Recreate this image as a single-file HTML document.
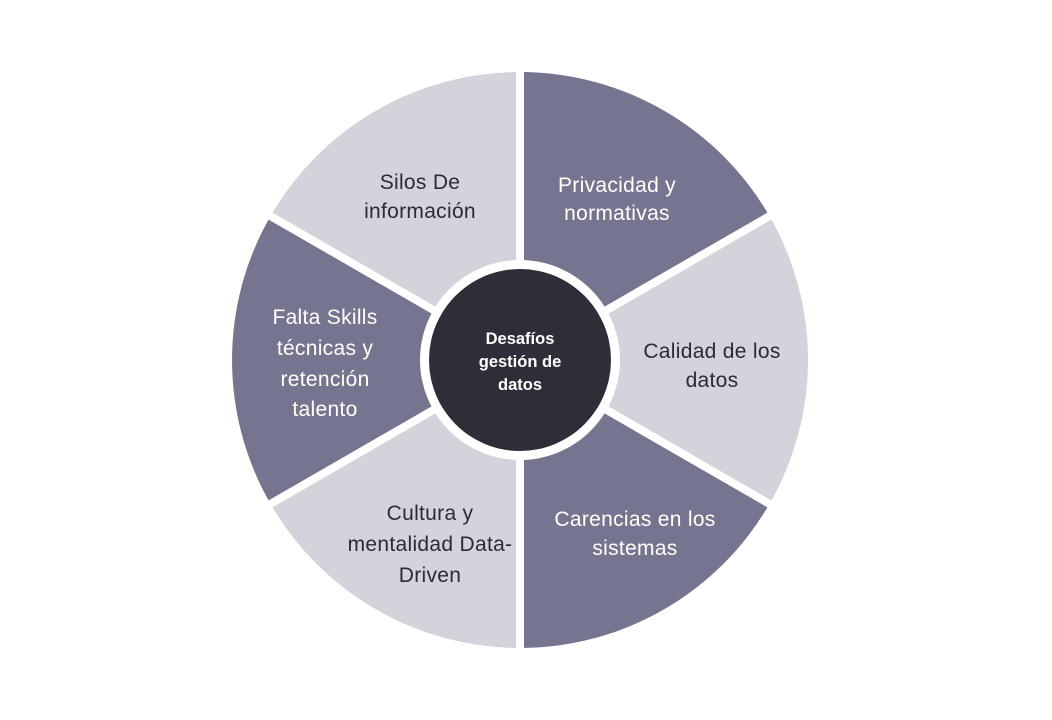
<!DOCTYPE html>
<html><head><meta charset="utf-8"><style>
html,body{margin:0;padding:0;background:#fff;width:1052px;height:720px;overflow:hidden}
svg{display:block}
text{font-family:"Liberation Sans",sans-serif;font-size:21px;text-anchor:middle;letter-spacing:0.3px}
.d{fill:#2b2b35}.w{fill:#fff}
.c{font-size:16.5px;font-weight:bold;fill:#fff;letter-spacing:0}
</style></head><body>
<svg width="1052" height="720" viewBox="0 0 1052 720">
<g>
<path d="M520,360 L520,72 A288,288 0 0 0 270.6,216 Z" fill="#d3d3db"/>
<path d="M520,360 L769.4,216 A288,288 0 0 0 520,72 Z" fill="#76758f"/>
<path d="M520,360 L769.4,504 A288,288 0 0 0 769.4,216 Z" fill="#d3d3db"/>
<path d="M520,360 L520,648 A288,288 0 0 0 769.4,504 Z" fill="#76758f"/>
<path d="M520,360 L270.6,504 A288,288 0 0 0 520,648 Z" fill="#d3d3db"/>
<path d="M520,360 L270.6,216 A288,288 0 0 0 270.6,504 Z" fill="#76758f"/>
</g>
<g stroke="#fff" stroke-width="8">
<line x1="520" y1="360" x2="520" y2="60"/>
<line x1="520" y1="360" x2="780" y2="210"/>
<line x1="520" y1="360" x2="780" y2="510"/>
<line x1="520" y1="360" x2="520" y2="660"/>
<line x1="520" y1="360" x2="260" y2="510"/>
<line x1="520" y1="360" x2="260" y2="210"/>
</g>
<circle cx="520" cy="360" r="100" fill="#fff"/>
<circle cx="520" cy="360" r="91" fill="#2e2e38"/>
<text class="c" x="520" y="344">Desafíos</text>
<text class="c" x="520" y="367">gestión de</text>
<text class="c" x="520" y="390">datos</text>
<text class="d" x="420" y="189">Silos De</text>
<text class="d" x="420" y="218">información</text>
<text class="w" x="617" y="192">Privacidad y</text>
<text class="w" x="617" y="220">normativas</text>
<text class="d" x="712" y="358">Calidad de los</text>
<text class="d" x="712" y="387">datos</text>
<text class="w" x="635" y="526">Carencias en los</text>
<text class="w" x="635" y="555">sistemas</text>
<text class="d" x="430" y="520">Cultura y</text>
<text class="d" x="430" y="551">mentalidad Data-</text>
<text class="d" x="430" y="582">Driven</text>
<text class="w" x="325" y="324">Falta Skills</text>
<text class="w" x="325" y="355">técnicas y</text>
<text class="w" x="325" y="386">retención</text>
<text class="w" x="325" y="416">talento</text>
</svg>
</body></html>
